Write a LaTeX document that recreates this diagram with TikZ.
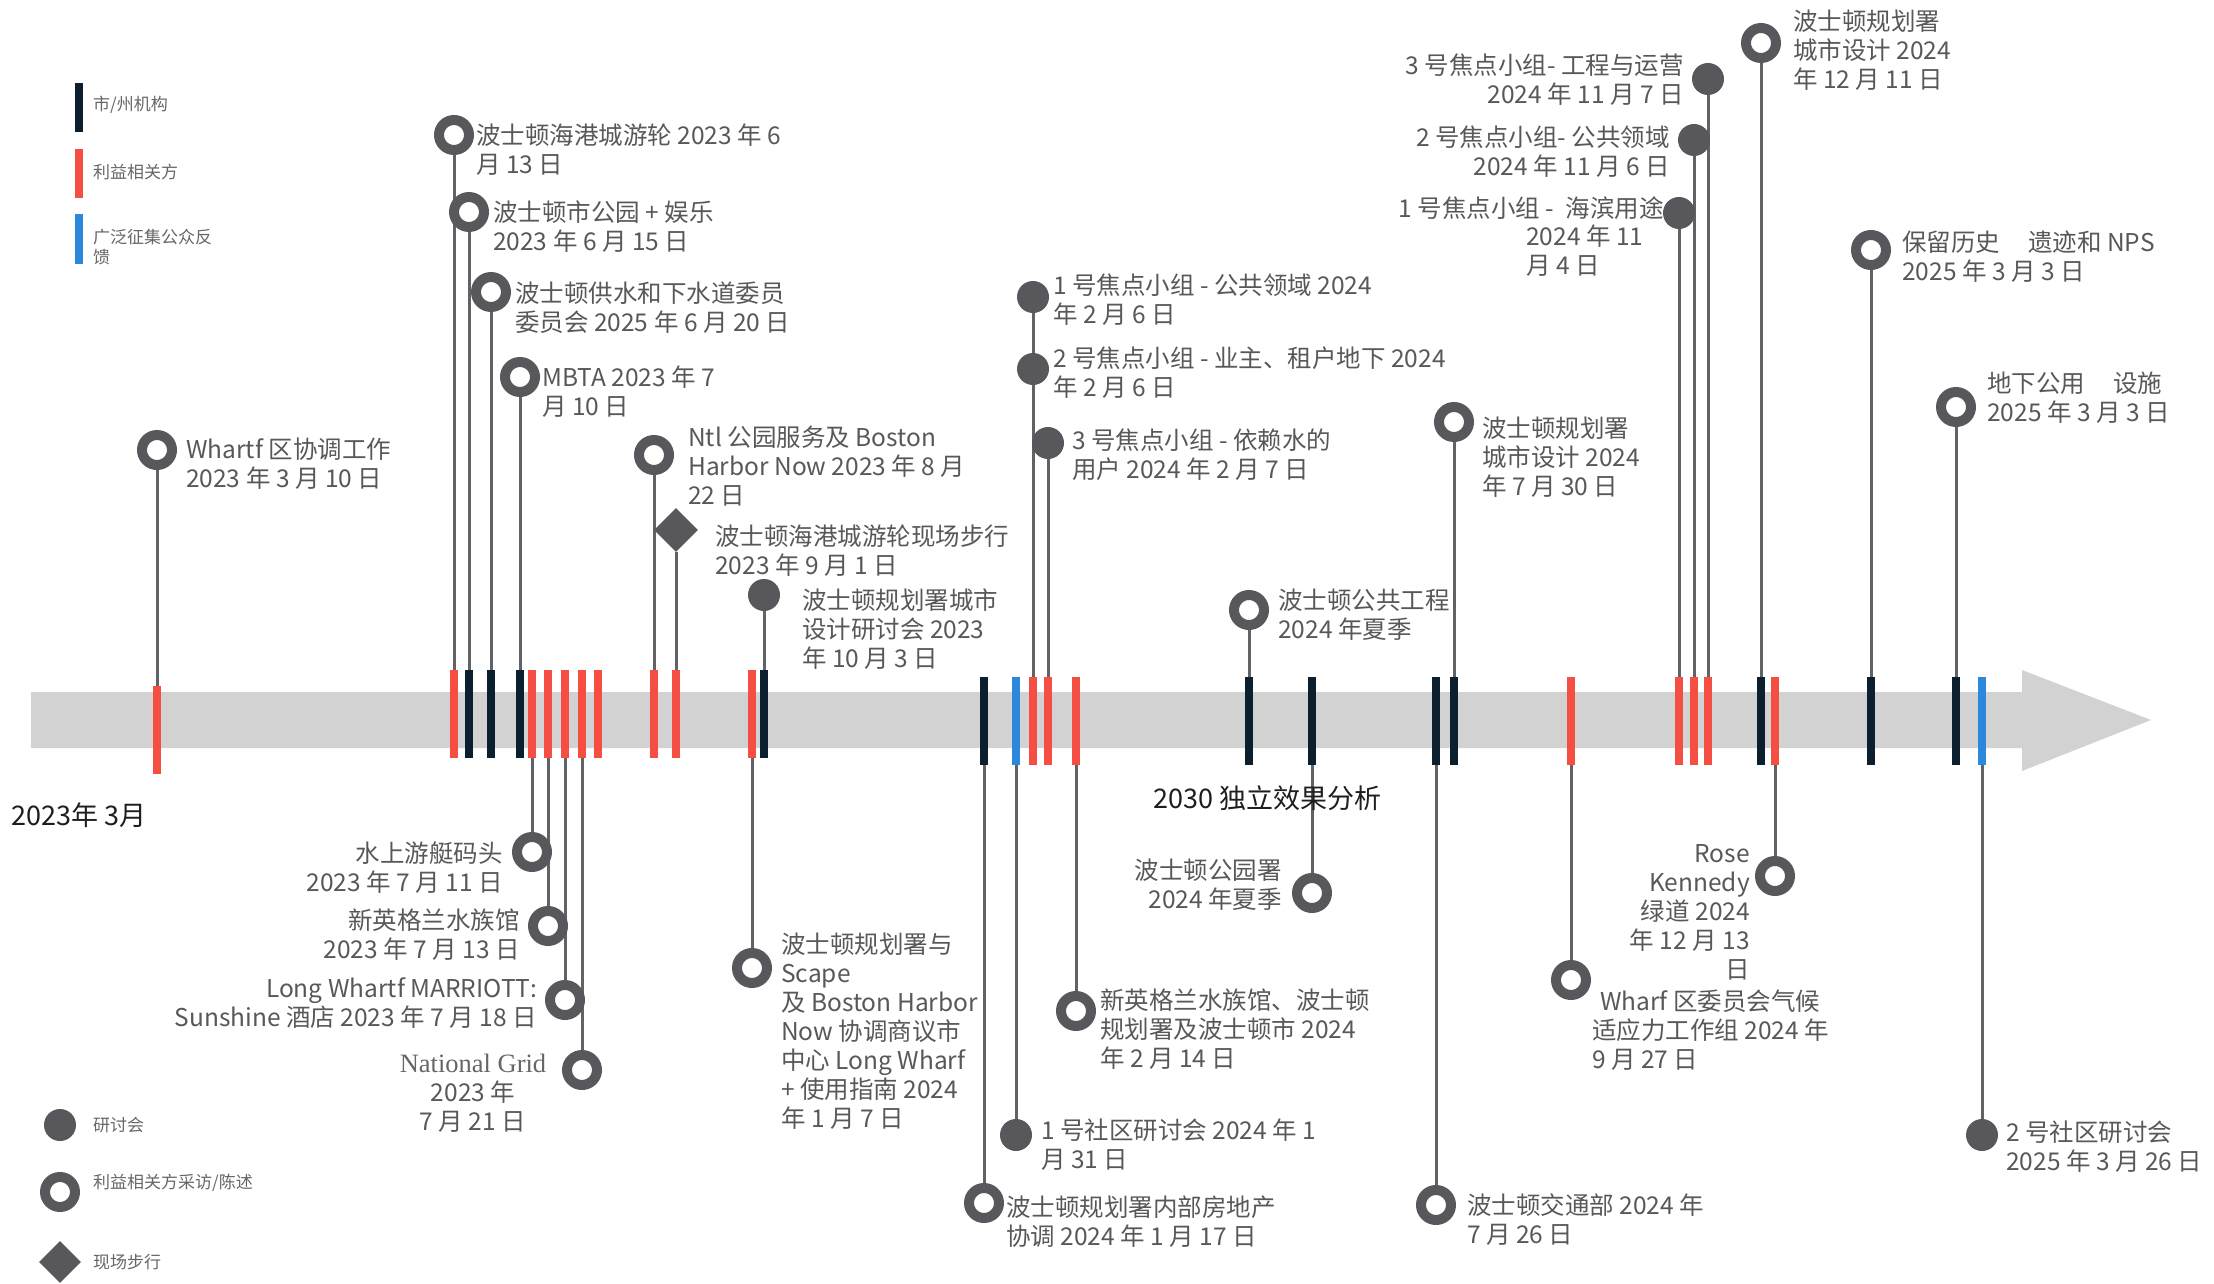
\documentclass[tikz,border=0pt]{standalone}
\usepackage{fontspec}
\setmainfont{Noto Sans CJK SC}
\newfontfamily\gridserif{Liberation Serif}
\usetikzlibrary{shapes.geometric}
\pgfdeclarelayer{bandlayer}
\pgfdeclarelayer{stemlayer}
\pgfsetlayers{bandlayer,stemlayer,main}
\definecolor{tkd}{HTML}{0B1F2E}
\definecolor{tkr}{HTML}{F44F42}
\definecolor{tkb}{HTML}{2B88DB}
\definecolor{bandc}{HTML}{D2D2D2}
\definecolor{mk}{HTML}{58575C}
\definecolor{stemc}{HTML}{626166}
\definecolor{txt}{HTML}{58585A}
\definecolor{lgt}{HTML}{666666}
\definecolor{blk}{HTML}{1E1E1E}
\newcommand{\fs}{\rule{0pt}{22pt}}
\newcommand{\fb}{\rule{0pt}{24pt}}
\tikzset{
  tk/.style={rectangle, inner sep=0pt, outer sep=0pt, minimum width=8.5pt, minimum height=88pt},
  tkD/.style={tk, fill=tkd},
  tkR/.style={tk, fill=tkr},
  tkB/.style={tk, fill=tkb},
  ring/.style={circle, draw=mk, line width=10pt, fill=white, minimum size=30pt, inner sep=0pt},
  dot/.style={circle, fill=mk, minimum size=32pt, inner sep=0pt},
  walk/.style={diamond, fill=mk, minimum size=44pt, inner sep=0pt},
  stem/.style={draw=stemc, line width=3pt},
  lbl/.style={font=\fontsize{24.5}{29}\selectfont, text=txt, inner sep=0pt, align=left, anchor=north west},
  lblr/.style={lbl, align=right, anchor=north east},
  big/.style={font=\fontsize{27}{32}\selectfont, text=blk, inner sep=0pt, anchor=north west},
  lgtxt/.style={font=\fontsize{17}{20}\selectfont, text=lgt, inner sep=0pt, anchor=west, align=left}
}
\begin{document}
\begin{tikzpicture}[x=1pt,y=-1pt]
\useasboundingbox (0,0) rectangle (2214,1284);
\begin{pgfonlayer}{bandlayer}
\fill[bandc] (31,692) -- (2022,692) -- (2022,670) -- (2151,720) -- (2022,771) -- (2022,748) -- (31,748) -- cycle;
\end{pgfonlayer}

% ticks
\node[tkR] (t1) at (157,730) {};
\node[tkR] (t2) at (454,714) {};
\node[tkD] (t3) at (469,714) {};
\node[tkD] (t4) at (491,714) {};
\node[tkD] (t5) at (520,714) {};
\node[tkR] (t6) at (532,714) {};
\node[tkR] (t7) at (548,714) {};
\node[tkR] (t8) at (565,714) {};
\node[tkR] (t9) at (582,714) {};
\node[tkR] (t10) at (598,714) {};
\node[tkR] (t11) at (654,714) {};
\node[tkR] (t12) at (676,714) {};
\node[tkR] (t13) at (752,714) {};
\node[tkD] (t14) at (764,714) {};
\node[tkD] (t15) at (984,721) {};
\node[tkB] (t16) at (1016,721) {};
\node[tkR] (t17) at (1033,721) {};
\node[tkR] (t18) at (1048,721) {};
\node[tkR] (t19) at (1076,721) {};
\node[tkD] (t20) at (1249,721) {};
\node[tkD] (t21) at (1312,721) {};
\node[tkD] (t22) at (1436,721) {};
\node[tkD] (t23) at (1454,721) {};
\node[tkR] (t24) at (1571,721) {};
\node[tkR] (t25) at (1679,721) {};
\node[tkR] (t26) at (1694,721) {};
\node[tkR] (t27) at (1708,721) {};
\node[tkD] (t28) at (1761,721) {};
\node[tkR] (t29) at (1775,721) {};
\node[tkD] (t30) at (1871,721) {};
\node[tkD] (t31) at (1956,721) {};
\node[tkB] (t32) at (1982,721) {};

% markers
\node[ring] (m1) at (157,450) {};
\node[ring] (m2) at (454,135) {};
\node[ring] (m3) at (469,212) {};
\node[ring] (m4) at (491,292) {};
\node[ring] (m5) at (520,377) {};
\node[ring] (m6) at (532,852) {};
\node[ring] (m7) at (548,926) {};
\node[ring] (m8) at (565,1000) {};
\node[ring] (m9) at (582,1070) {};
\node[ring] (m11) at (654,455) {};
\node[walk] (m12) at (676,530) {};
\node[ring] (m13) at (752,968) {};
\node[dot] (m14) at (764,595) {};
\node[ring] (m15) at (984,1203) {};
\node[dot] (m16) at (1016,1135) {};
\node[dot] (m17a) at (1033,297) {};
\node[dot] (m17b) at (1033,369) {};
\node[dot] (m18) at (1048,443) {};
\node[ring] (m19) at (1076,1011) {};
\node[ring] (m20) at (1249,610) {};
\node[ring] (m21) at (1312,893) {};
\node[ring] (m22) at (1436,1205) {};
\node[ring] (m23) at (1454,422) {};
\node[ring] (m24) at (1571,980) {};
\node[dot] (m25) at (1679,213) {};
\node[dot] (m26) at (1694,140) {};
\node[dot] (m27) at (1708,79) {};
\node[ring] (m28) at (1761,43) {};
\node[ring] (m29) at (1775,876) {};
\node[ring] (m30) at (1871,250) {};
\node[ring] (m31) at (1956,407) {};
\node[dot] (m32) at (1982,1135) {};

% stems
\begin{pgfonlayer}{stemlayer}
\draw[stem] (m1) -- (t1.north);
\draw[stem] (m2) -- (t2.north);
\draw[stem] (m3) -- (t3.north);
\draw[stem] (m4) -- (t4.north);
\draw[stem] (m5) -- (t5.north);
\draw[stem] (t6.south) -- (m6);
\draw[stem] (t7.south) -- (m7);
\draw[stem] (t8.south) -- (m8);
\draw[stem] (t9.south) -- (m9);
\draw[stem] (m11) -- (t11.north);
\draw[stem] (m12) -- (t12.north);
\draw[stem] (t13.south) -- (m13);
\draw[stem] (m14) -- (t14.north);
\draw[stem] (t15.south) -- (m15);
\draw[stem] (t16.south) -- (m16);
\draw[stem] (m17a) -- (t17.north);
\draw[stem] (m18) -- (t18.north);
\draw[stem] (t19.south) -- (m19);
\draw[stem] (m20) -- (t20.north);
\draw[stem] (t21.south) -- (m21);
\draw[stem] (t22.south) -- (m22);
\draw[stem] (m23) -- (t23.north);
\draw[stem] (t24.south) -- (m24);
\draw[stem] (m25) -- (t25.north);
\draw[stem] (m26) -- (t26.north);
\draw[stem] (m27) -- (t27.north);
\draw[stem] (m28) -- (t28.north);
\draw[stem] (t29.south) -- (m29);
\draw[stem] (m30) -- (t30.north);
\draw[stem] (m31) -- (t31.north);
\draw[stem] (t32.south) -- (m32);
\end{pgfonlayer}

% labels
\node[lbl] (L1) at (186,436) {\fs Whartf 区协调工作\\2023 年 3 月 10 日};
\node[lbl] (L2) at (476,122) {\fs 波士顿海港城游轮 2023 年 6\\月 13 日};
\node[lbl] (L3) at (493,199) {\fs 波士顿市公园 + 娱乐\\2023 年 6 月 15 日};
\node[lbl] (L4) at (515,280) {\fs 波士顿供水和下水道委员\\委员会 2025 年 6 月 20 日};
\node[lbl] (L5) at (542,364) {\fs MBTA 2023 年 7\\月 10 日};
\node[lblr] (L6) at (503,840) {\fs 水上游艇码头\\2023 年 7 月 11 日};
\node[lblr] (L7) at (520,907) {\fs 新英格兰水族馆\\2023 年 7 月 13 日};
\node[lblr] (L8) at (537,975) {\fs Long Whartf MARRIOTT:\\Sunshine 酒店 2023 年 7 月 18 日};
\node[lbl, align=center, anchor=north] (L9) at (473,1050) {\fs{\gridserif\fontsize{26.5}{29}\selectfont\color{lgt}National Grid}\\2023 年\\7 月 21 日};
\node[lbl] (L11) at (688,424) {\fs Ntl 公园服务及 Boston\\Harbor Now 2023 年 8 月\\22 日};
\node[lbl] (L12) at (715,523) {\fs 波士顿海港城游轮现场步行\\2023 年 9 月 1 日};
\node[lbl] (L13) at (781,931) {\fs 波士顿规划署与\\Scape\\及 Boston Harbor\\Now 协调商议市\\中心 Long Wharf\\+ 使用指南 2024\\年 1 月 7 日};
\node[lbl] (L14) at (802,587) {\fs 波士顿规划署城市\\设计研讨会 2023\\年 10 月 3 日};
\node[lbl] (L15) at (1006,1194) {\fs 波士顿规划署内部房地产\\协调 2024 年 1 月 17 日};
\node[lbl] (L16) at (1041,1117) {\fs 1 号社区研讨会 2024 年 1\\月 31 日};
\node[lbl] (L17a) at (1053,272) {\fs 1 号焦点小组 - 公共领域 2024\\年 2 月 6 日};
\node[lbl] (L17b) at (1053,345) {\fs 2 号焦点小组 - 业主、租户地下 2024\\年 2 月 6 日};
\node[lbl] (L18) at (1072,427) {\fs 3 号焦点小组 - 依赖水的\\用户 2024 年 2 月 7 日};
\node[lbl] (L19) at (1100,987) {\fs 新英格兰水族馆、波士顿\\规划署及波士顿市 2024\\年 2 月 14 日};
\node[lbl] (L20) at (1278,587) {\fs 波士顿公共工程\\2024 年夏季};
\node[lblr] (L21) at (1282,857) {\fs 波士顿公园署\\2024 年夏季};
\node[lbl] (L22) at (1467,1192) {\fs 波士顿交通部 2024 年\\7 月 26 日};
\node[lbl] (L23) at (1482,415) {\fs 波士顿规划署\\城市设计 2024\\年 7 月 30 日};
\node[lbl] (L24) at (1592,988) {\fs\hspace{8pt}Wharf 区委员会气候\\适应力工作组 2024 年\\9 月 27 日};
\node[lblr] (L25a) at (1664,195) {\fs 1 号焦点小组 -\hspace{6pt} 海滨用途};
\node[lbl] (L25b) at (1526,223) {\fs 2024 年 11\\月 4 日};
\node[lblr] (L26) at (1670,124) {\fs 2 号焦点小组- 公共领域\\2024 年 11 月 6 日};
\node[lblr] (L27) at (1684,52) {\fs 3 号焦点小组- 工程与运营\\2024 年 11 月 7 日};
\node[lbl] (L28) at (1793,8) {\fs 波士顿规划署\\城市设计 2024\\年 12 月 11 日};
\node[lblr] (L29) at (1750,840) {\fs Rose\\Kennedy\\绿道 2024\\年 12 月 13\\日};
\node[lbl] (L30) at (1902,229) {\fs 保留历史\hspace{28pt}遗迹和 NPS\\2025 年 3 月 3 日};
\node[lbl] (L31) at (1987,370) {\fs 地下公用\hspace{28pt}设施\\2025 年 3 月 3 日};
\node[lbl] (L32) at (2006,1119) {\fs 2 号社区研讨会\\2025 年 3 月 26 日};

% black labels
\node[big] (start) at (11,801) {\fb 2023年 3月};
\node[big] (eval) at (1153,784) {\fb 2030 独立效果分析};

% legend (categories)
\node[tkD, minimum height=49pt] (lgD) at (79,107.5) {};
\node[tkR, minimum height=49pt] (lgR) at (79,173.5) {};
\node[tkB, minimum height=49pt] (lgB) at (79,239) {};
\node[lgtxt] (lgDt) at (93,105) {市/州机构};
\node[lgtxt] (lgRt) at (93,172) {利益相关方};
\node[lgtxt, anchor=north west] (lgBt) at (93,228) {\rule{0pt}{15pt}广泛征集公众反\\馈};

% legend (markers)
\node[dot] (lgM1) at (60,1125) {};
\node[ring] (lgM2) at (60,1192) {};
\node[walk, minimum size=42pt] (lgM3) at (60,1262) {};
\node[lgtxt] (lgM1t) at (93,1125) {研讨会};
\node[lgtxt] (lgM2t) at (93,1183) {利益相关方采访/陈述};
\node[lgtxt] (lgM3t) at (93,1262) {现场步行};
\end{tikzpicture}
\end{document}
